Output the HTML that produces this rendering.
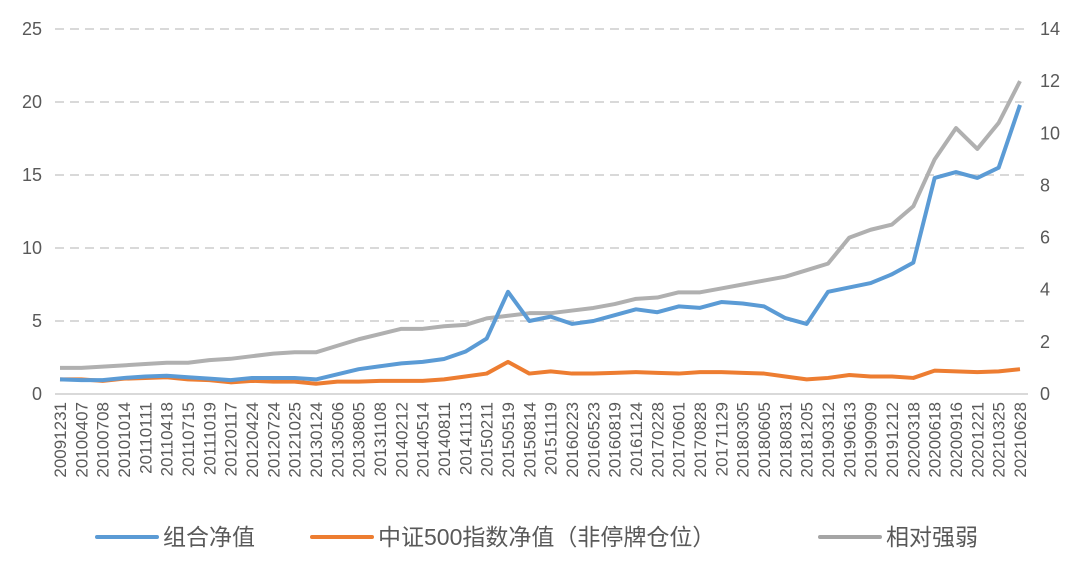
<!DOCTYPE html>
<html><head><meta charset="utf-8"><style>
body{margin:0;background:#fff;}
svg{display:block;font-family:"Liberation Sans","Noto Sans CJK SC",sans-serif;}
</style></head><body>
<svg id="chart" width="1071" height="567" viewBox="0 0 1071 567"></svg>
<script>
const dates=["20091231","20100407","20100708","20101014","20110111","20110418","20110715","20111019","20120117","20120424","20120724","20121025","20130124","20130506","20130805","20131108","20140212","20140514","20140811","20141113","20150211","20150519","20150814","20151119","20160223","20160523","20160819","20161124","20170228","20170601","20170828","20171129","20180305","20180605","20180831","20181205","20190312","20190613","20190909","20191212","20200318","20200618","20200916","20201221","20210325","20210628"];
const portfolio=[1.0,0.95,0.95,1.1,1.2,1.25,1.15,1.05,0.95,1.1,1.1,1.1,1.0,1.35,1.7,1.9,2.1,2.2,2.4,2.9,3.8,7.0,5.0,5.3,4.8,5.0,5.4,5.8,5.6,6.0,5.9,6.3,6.2,6.0,5.2,4.8,7.0,7.3,7.6,8.2,9.0,14.8,15.2,14.8,15.5,19.8];
const csi500=[1.0,1.0,0.9,1.05,1.1,1.15,1.0,0.95,0.8,0.9,0.85,0.85,0.7,0.85,0.85,0.9,0.9,0.9,1.0,1.2,1.4,2.2,1.4,1.55,1.4,1.4,1.45,1.5,1.45,1.4,1.5,1.5,1.45,1.4,1.2,1.0,1.1,1.3,1.2,1.2,1.1,1.6,1.55,1.5,1.55,1.7];
const relative=[1.0,1.0,1.05,1.1,1.15,1.2,1.2,1.3,1.35,1.45,1.55,1.6,1.6,1.85,2.1,2.3,2.5,2.5,2.6,2.65,2.9,3.0,3.1,3.1,3.2,3.3,3.45,3.65,3.7,3.9,3.9,4.05,4.2,4.35,4.5,4.75,5.0,6.0,6.3,6.5,7.2,9.0,10.2,9.4,10.4,12.0];
const leftTicks=[0,5,10,15,20,25];
const rightTicks=[0,2,4,6,8,10,12,14];

const NS="http://www.w3.org/2000/svg";
const svg=document.getElementById('chart');
const X0=60,X1=1020,Y0=394,Y1=29;
function x(i){return X0+(X1-X0)*i/(dates.length-1);}
function yL(v){return Y0-(Y0-Y1)*v/25;}
function yR(v){return Y0-(Y0-Y1)*v/14;}
function mk(tag,attrs){const e=document.createElementNS(NS,tag);for(const k in attrs)e.setAttribute(k,attrs[k]);svg.appendChild(e);return e;}

leftTicks.forEach(t=>{
  if(t>0){const g=mk('line',{x1:55,x2:1028,y1:yL(t),y2:yL(t),stroke:'#d9d9d9','stroke-width':2,'stroke-dasharray':'9,6'});
  
  }
  const l=mk('text',{x:42,y:yL(t)+6,'text-anchor':'end','font-size':18,fill:'#595959'});l.textContent=t;
  
  
});
rightTicks.forEach(t=>{
  const l=mk('text',{x:1040,y:yR(t)+6,'font-size':18,fill:'#595959'});l.textContent=t;
  
  
});
const ax=mk('line',{x1:55,x2:1028,y1:Y0,y2:Y0,stroke:'#d9d9d9','stroke-width':2});


dates.forEach((d,i)=>{
  const t=mk('text',{x:0,y:0,'text-anchor':'end','font-size':17,fill:'#595959',transform:`translate(${x(i)+6},402) rotate(-90)`});
  t.textContent=d;
  
  
});
function series(arr,yf,color,name){
  const p=mk('polyline',{points:arr.map((v,i)=>x(i)+','+yf(v)).join(' '),fill:'none',stroke:color,'stroke-width':4,'stroke-linejoin':'round'});
  
  
}
series(relative,yR,'#b0b0b0','relative-strength-line');
series(csi500,yL,'#ed7d31','csi500-line');
series(portfolio,yL,'#5b9bd5','portfolio-line');

const legend=[[97,'#5b9bd5','组合净值'],[312,'#ed7d31','中证500指数净值（非停牌仓位）'],[820,'#a5a5a5','相对强弱']];
legend.forEach(([lx,c,txt])=>{
  const ln=mk('line',{x1:lx,x2:lx+60,y1:537,y2:537,stroke:c,'stroke-width':4,'stroke-linecap':'round'});
  
  
  const t=mk('text',{x:lx+66,y:545,'font-size':23,fill:'#595959'});t.textContent=txt;
  
  
});
</script>
</body></html>
